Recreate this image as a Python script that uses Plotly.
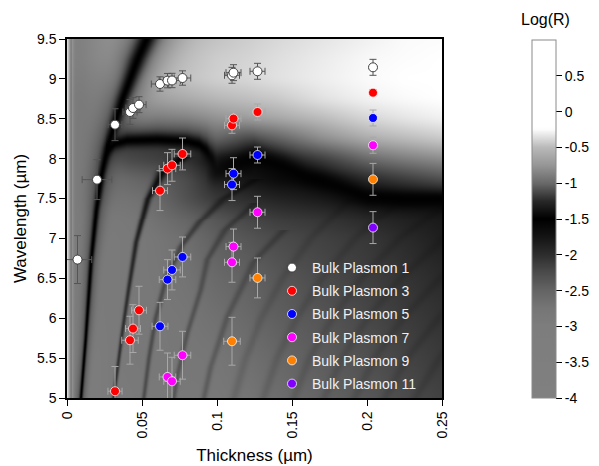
import numpy as np
import plotly.graph_objects as go

# ---------------- measured bulk plasmon resonances ----------------
bp1_d = [0.007, 0.020, 0.032, 0.042, 0.044, 0.048, 0.062, 0.067, 0.070, 0.077, 0.110, 0.111, 0.127, 0.204]
bp1_wl = [6.735, 7.737, 8.426, 8.585, 8.635, 8.677, 8.936, 8.978, 8.980, 9.011, 9.045, 9.078, 9.095, 9.145]
bp1_dx = [0.0095, 0.0099, 0.0046, 0.0047, 0.0047, 0.0047, 0.0058, 0.0056, 0.0056, 0.0055, 0.0050, 0.0050, 0.0050, 0.0]
bp1_dy = [0.30, 0.25, 0.20, 0.155, 0.13, 0.10, 0.09, 0.09, 0.09, 0.09, 0.10, 0.10, 0.10, 0.10]

bp3_d = [0.032, 0.042, 0.044, 0.048, 0.062, 0.067, 0.070, 0.077, 0.110, 0.111, 0.127, 0.204]
bp3_wl = [5.085, 5.724, 5.870, 6.100, 7.599, 7.875, 7.917, 8.059, 8.418, 8.502, 8.585, 8.827]
bp3_dx = [0.0047, 0.0055, 0.0050, 0.0050, 0.0050, 0.0055, 0.0055, 0.0055, 0.0050, 0.0050, 0.0050, 0.0]
bp3_dy = [0.31, 0.30, 0.30, 0.30, 0.25, 0.20, 0.20, 0.20, 0.10, 0.10, 0.10, 0.04]

bp5_d = [0.062, 0.067, 0.070, 0.077, 0.110, 0.111, 0.127, 0.204]
bp5_wl = [5.899, 6.484, 6.605, 6.768, 7.675, 7.812, 8.046, 8.510]
bp5_dx = [0.0053, 0.0055, 0.0055, 0.0055, 0.0050, 0.0050, 0.0050, 0.0]
bp5_dy = [0.30, 0.25, 0.25, 0.25, 0.20, 0.20, 0.10, 0.10]

bp7_d = [0.067, 0.070, 0.077, 0.110, 0.111, 0.127, 0.204]
bp7_wl = [5.264, 5.210, 5.536, 6.701, 6.898, 7.328, 8.168]
bp7_dx = [0.0055, 0.0055, 0.0055, 0.0050, 0.0050, 0.0050, 0.0]
bp7_dy = [0.30, 0.30, 0.30, 0.25, 0.22, 0.20, 0.10]

bp9_d = [0.110, 0.127, 0.204]
bp9_wl = [5.711, 6.505, 7.741]
bp9_dx = [0.0055, 0.0050, 0.0]
bp9_dy = [0.30, 0.25, 0.20]

bp11_d = [0.204]
bp11_wl = [7.136]
bp11_dx = [0.0]
bp11_dy = [0.20]

# ---------------- simulated reflection map (as gray level) ----------------
base_d = [0, 0.0025, 0.01, 0.02, 0.03, 0.04, 0.05, 0.06, 0.08, 0.10, 0.12, 0.14, 0.17, 0.20, 0.225, 0.25]
base_wl = [5.0, 5.5, 6.0, 6.5, 7.0, 7.25, 7.5, 7.75, 8.0, 8.25, 8.5, 8.75, 9.0, 9.25, 9.5]
base_gray = [
    [230, 125, 125, 124, 122, 122, 121, 121, 120, 120, 117, 110, 100, 88, 76, 65],
    [230, 125, 125, 124, 122, 121, 120, 120, 119, 118, 112, 104, 92, 80, 68, 58],
    [230, 124, 124, 123, 122, 121, 120, 120, 118, 112, 105, 95, 85, 72, 60, 50],
    [230, 124, 124, 123, 122, 121, 120, 119, 115, 105, 98, 88, 75, 62, 52, 42],
    [230, 124, 124, 123, 122, 121, 120, 118, 110, 95, 85, 75, 65, 55, 42, 30],
    [230, 124, 124, 122, 121, 120, 118, 112, 100, 85, 70, 60, 52, 40, 32, 25],
    [230, 124, 122, 118, 116, 115, 112, 105, 80, 55, 45, 35, 25, 10, 5, 5],
    [230, 124, 122, 115, 110, 105, 100, 95, 75, 35, 20, 10, 10, 40, 60, 80],
    [230, 124, 122, 118, 100, 75, 70, 65, 50, 20, 10, 25, 60, 105, 125, 140],
    [230, 124, 122, 122, 110, 90, 85, 85, 85, 100, 70, 95, 140, 170, 185, 200],
    [230, 124, 122, 128, 130, 135, 130, 125, 130, 145, 155, 165, 185, 212, 228, 240],
    [230, 124, 122, 132, 140, 150, 158, 160, 170, 182, 190, 200, 225, 242, 250, 255],
    [230, 126, 125, 135, 150, 158, 165, 178, 195, 208, 215, 225, 238, 250, 255, 255],
    [230, 128, 128, 140, 155, 152, 160, 175, 190, 205, 212, 222, 235, 248, 252, 255],
    [230, 130, 128, 140, 155, 160, 165, 172, 185, 195, 205, 215, 228, 240, 250, 252],
]

# dark mode lines: (thickness, wavelength, width px, depth)
ridge1 = dict(d=[0.0093, 0.0125, 0.016, 0.0195, 0.023, 0.027, 0.032, 0.037, 0.042, 0.047, 0.053],
              wl=[5.0, 5.75, 6.7, 7.35, 7.8, 8.15, 8.45, 8.75, 9.0, 9.25, 9.5],
              w=[1.6, 1.8, 2.3, 3.0, 3.8, 4.5, 5.5, 6.5, 7.5, 8.5, 9.5],
              k=[1, 1, 1, 1, 1, 1, 1, 1, 1, 1, 1])
ridge3 = dict(d=[0.031, 0.0367, 0.041, 0.046, 0.0538, 0.0638, 0.077],
              wl=[5.0, 5.81, 6.36, 6.95, 7.5, 7.84, 8.02],
              w=[1.8, 2.0, 2.3, 2.7, 3.3, 4.0, 4.5],
              k=[0.55, 0.58, 0.62, 0.68, 0.78, 0.88, 0.92])
ridge5 = dict(d=[0.0511, 0.0545, 0.059, 0.066, 0.076, 0.088, 0.104, 0.126],
              wl=[5.0, 5.5, 6.0, 6.5, 6.9, 7.2, 7.5, 7.75],
              w=[2.2, 2.4, 2.6, 2.8, 3.0, 3.3, 3.5, 3.5],
              k=[0.36, 0.36, 0.36, 0.36, 0.38, 0.4, 0.4, 0.4])
ridge7 = dict(d=[0.0711, 0.0733, 0.080, 0.0889, 0.0933, 0.105, 0.125],
              wl=[5.0, 5.27, 5.81, 6.35, 6.73, 7.1, 7.45],
              w=[2.5, 2.5, 2.7, 3.0, 3.2, 3.4, 3.6],
              k=[0.28, 0.28, 0.28, 0.28, 0.28, 0.28, 0.28])
ridge9 = dict(d=[0.0911, 0.0956, 0.1067, 0.124, 0.145],
              wl=[5.0, 5.39, 6.02, 6.69, 7.1],
              w=[3.0, 3.2, 3.4, 3.6, 3.8],
              k=[0.22, 0.22, 0.22, 0.22, 0.22])
# higher order lines follow thickness = m * g(wavelength)
mode_g_wl = [5.0, 5.5, 6.0, 6.5, 7.0, 7.5]
mode_g = [0.0101, 0.0108, 0.0118, 0.0131, 0.0148, 0.0172]
high_orders = [11, 13, 15, 17, 19, 21, 23]

# horizontal dark features: tongue and the broad band
tongue = dict(d=[0.026, 0.032, 0.040, 0.060, 0.080, 0.088, 0.093, 0.097, 0.100],
              wl=[8.10, 8.19, 8.23, 8.24, 8.22, 8.18, 8.10, 8.00, 7.92],
              w=[4.0, 5.0, 6.0, 6.5, 6.5, 6.0, 5.5, 5.0, 5.0],
              k=[1, 1, 1, 1, 1, 1, 0.95, 0.6, 0.0])
band = dict(d=[0.092, 0.10, 0.125, 0.145, 0.16, 0.18, 0.20, 0.225, 0.25],
            wl=[7.80, 7.85, 8.03, 7.90, 7.78, 7.66, 7.53, 7.50, 7.50],
            w=[9, 10, 12, 11, 10, 9.5, 9, 8, 7],
            k=[0.0, 0.6, 0.9, 0.9, 0.9, 0.9, 0.9, 0.9, 0.9])

# colour bar: value -> gray
cs_val = [-4, -3, -2.75, -2.5, -2.25, -2, -1.75, -1.5, -1.25, -1.0, -0.75, -0.5, -0.35, -0.25, -0.2, 1]
cs_gray = [128, 125, 118, 100, 75, 45, 20, 0, 40, 105, 150, 185, 225, 252, 255, 255]
cb_ticks = [0.5, 0, -0.5, -1, -1.5, -2, -2.5, -3, -3.5, -4]
cb_text = ["0.5", "0", "-0.5", "-1", "-1.5", "-2", "-2.5", "-3", "-3.5", "-4"]

x_ticks = [0, 0.05, 0.1, 0.15, 0.2, 0.25]
x_text = ["0", "0.05", "0.1", "0.15", "0.2", "0.25"]
y_ticks = [5, 5.5, 6, 6.5, 7, 7.5, 8, 8.5, 9, 9.5]
y_text = ["5", "5.5", "6", "6.5", "7", "7.5", "8", "8.5", "9", "9.5"]

# ---------------- build the map ----------------
NX, NY = 376, 360
PXX = 375 / 0.25   # px per um thickness
PXY = 359 / 4.5    # px per um wavelength
D = (np.arange(NX) + 0.5) * 0.25 / NX
L = 5 + (np.arange(NY) + 0.5) * 4.5 / NY

bg = np.array(base_gray, float)
tmp = np.array([np.interp(D, base_d, row) for row in bg])
G = np.array([np.interp(L, base_wl, tmp[:, i]) for i in range(NX)]).T


def blur(a, n):
    k = np.ones(n) / n
    p = n // 2
    a2 = np.pad(a, ((p, p), (0, 0)), mode="edge")
    a2 = np.array([np.convolve(a2[:, i], k, mode="valid") for i in range(a.shape[1])]).T
    a3 = np.pad(a2, ((0, 0), (p, p)), mode="edge")
    a3 = np.array([np.convolve(a3[j], k, mode="valid") for j in range(a.shape[0])])
    return a3


edge = G[:, :5].copy()
G = blur(G, 11)
G[:, :5] = edge


def ridge_v(G, r, wscale=1.0, kscale=1.0):
    pd, pl, pw, pk = (np.asarray(r[k], float) for k in ("d", "wl", "w", "k"))
    slope = np.gradient(pd, pl)
    for j, lam in enumerate(L):
        if lam < pl[0] or lam > pl[-1]:
            continue
        dc = np.interp(lam, pl, pd)
        f = np.interp(lam, pl, slope) * PXX / PXY
        dist = np.abs(D - dc) * PXX / np.sqrt(1 + f * f)
        w = np.interp(lam, pl, pw) * wscale
        k = np.interp(lam, pl, pk) * kscale
        G[j] *= 1 - k * np.exp(-(dist / w) ** 2)


def ridge_h(G, r, wscale=1.0, kscale=1.0):
    pd, pl, pw, pk = (np.asarray(r[k], float) for k in ("d", "wl", "w", "k"))
    slope = np.gradient(pl, pd)
    for i, dd in enumerate(D):
        if dd < pd[0] or dd > pd[-1]:
            continue
        lc = np.interp(dd, pd, pl)
        f = np.interp(dd, pd, slope) * PXY / PXX
        dist = np.abs(L - lc) * PXY / np.sqrt(1 + f * f)
        w = np.interp(dd, pd, pw) * wscale
        k = np.interp(dd, pd, pk) * kscale
        G[:, i] *= 1 - k * np.exp(-(dist / w) ** 2)


for m in high_orders:
    ridge_v(G, dict(d=[m * g for g in mode_g], wl=mode_g_wl,
                    w=[4.5] * len(mode_g), k=[0.12] * len(mode_g)))
for r in (ridge9, ridge7, ridge5, ridge3):
    ridge_v(G, r)
ridge_h(G, band)
ridge_h(G, tongue, wscale=2.2, kscale=0.35)
ridge_h(G, tongue)
ridge_v(G, ridge1, wscale=3.0, kscale=0.3)
ridge_v(G, ridge1)

G = np.clip(G, 0, 255)
# gray -> Log(R) read through the colour bar (upper branch)
up_gray = cs_gray[7:15]
up_val = cs_val[7:15]
Z = np.round(np.interp(G, up_gray, up_val), 4)

colorscale = []
for v, g in zip(cs_val, cs_gray):
    colorscale.append([(v + 4) / 5, f"rgb({g},{g},{g})"])

fig = go.Figure()
fig.add_trace(go.Heatmap(
    x=D, y=L, z=Z, zmin=-4, zmax=1, colorscale=colorscale, zsmooth=False,
    showscale=True, hoverinfo="skip",
    colorbar=dict(thickness=24, len=358, lenmode="pixels", x=(532 - 67) / 375, xanchor="left",
                  y=(398 - 219) / 359, yanchor="middle", xpad=0, ypad=0,
                  outlinewidth=1, outlinecolor="#8a8a8a",
                  tickvals=cb_ticks, ticktext=cb_text, ticks="outside", ticklen=6,
                  tickcolor="black", tickwidth=1,
                  tickfont=dict(size=14, color="black", family="Arial, Liberation Sans, sans-serif")),
))

series = [
    ("Bulk Plasmon 1", bp1_d, bp1_wl, bp1_dx, bp1_dy, "#ffffff", "#404040", "#555555"),
    ("Bulk Plasmon 3", bp3_d, bp3_wl, bp3_dx, bp3_dy, "#ff0000", "rgba(255,255,255,0.75)", "#a8a8a8"),
    ("Bulk Plasmon 5", bp5_d, bp5_wl, bp5_dx, bp5_dy, "#0000ff", "rgba(255,255,255,0.75)", "#a8a8a8"),
    ("Bulk Plasmon 7", bp7_d, bp7_wl, bp7_dx, bp7_dy, "#ff00ff", "rgba(255,255,255,0.75)", "#a8a8a8"),
    ("Bulk Plasmon 9", bp9_d, bp9_wl, bp9_dx, bp9_dy, "#ff8000", "rgba(255,255,255,0.75)", "#a8a8a8"),
    ("Bulk Plasmon 11", bp11_d, bp11_wl, bp11_dx, bp11_dy, "#8000ff", "rgba(255,255,255,0.75)", "#a8a8a8"),
]
for name, xs, ys, dx, dy, col, lcol, ecol in series:
    fig.add_trace(go.Scatter(
        x=xs, y=ys, mode="markers", name=name, legendgroup=name,
        marker=dict(size=9, color=col, line=dict(color=lcol, width=1)),
        error_x=dict(type="data", array=dx, visible=True, color=ecol, thickness=1, width=3.5),
        error_y=dict(type="data", array=dy, visible=True, color=ecol, thickness=1, width=3.5),
    ))

font = "Arial, Liberation Sans, sans-serif"
fig.update_layout(
    width=599, height=466,
    margin=dict(l=67, r=157, t=39, b=68, autoexpand=False),
    paper_bgcolor="white", plot_bgcolor="white",
    font=dict(family=font, size=14, color="black"),
    showlegend=True,
    legend=dict(x=(272 - 67) / 375, y=(398 - 252) / 359, xanchor="left", yanchor="top",
                bgcolor="rgba(0,0,0,0)", borderwidth=0, tracegroupgap=2,
                font=dict(size=14, color="#f0f0f0", family=font)),
    xaxis=dict(range=[0, 0.25], tickvals=x_ticks, ticktext=x_text, tickangle=-90,
               ticks="outside", ticklen=6, tickcolor="black", showline=True, linecolor="black",
               linewidth=1.5, mirror=True, showgrid=False, zeroline=False, automargin=False,
               title=dict(text="Thickness (µm)", font=dict(size=17), standoff=12),
               tickfont=dict(size=14)),
    yaxis=dict(range=[5, 9.5], tickvals=y_ticks, ticktext=y_text,
               ticks="outside", ticklen=6, tickcolor="black", showline=True, linecolor="black",
               linewidth=1.5, mirror=True, showgrid=False, zeroline=False, automargin=False,
               title=dict(text="Wavelength (µm)", font=dict(size=17), standoff=6),
               tickfont=dict(size=14)),
    annotations=[dict(text="Log(R)", x=(545 - 67) / 375, y=(398 - 20) / 359, xref="paper", yref="paper",
                      showarrow=False, xanchor="center", yanchor="middle",
                      font=dict(size=16, color="black", family=font))],
)

fig.write_html("out.html")
